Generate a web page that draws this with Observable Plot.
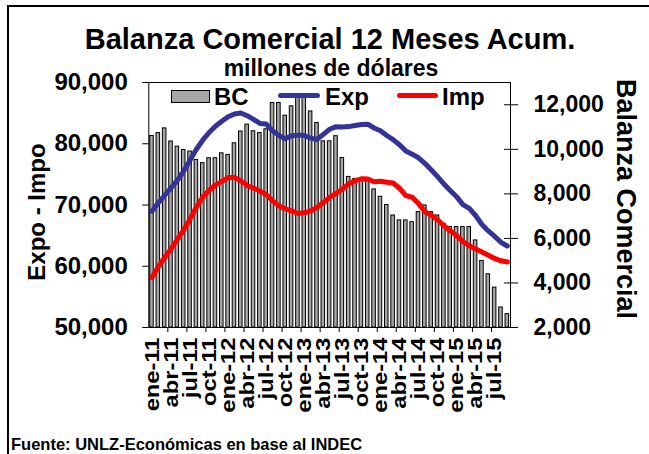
<!DOCTYPE html>
<html><head><meta charset="utf-8">
<script src="https://cdn.jsdelivr.net/npm/d3@7"></script>
<script src="https://cdn.jsdelivr.net/npm/@observablehq/plot@0.6"></script>
<style>
body{margin:0;background:#fff;}
#wrap{position:relative;width:649px;height:454px;overflow:hidden;background:#fff;font-family:"Liberation Sans",Arial,sans-serif;font-weight:bold;color:#000;}
.abs{position:absolute;white-space:nowrap;line-height:1;}
#chart{position:absolute;left:0;top:60px;}
#chart svg text{font-weight:bold;}
</style></head><body>
<div id="wrap">
 <div class="abs" style="left:7px;top:5px;width:660px;height:470px;border-left:2px solid #000;border-top:2px solid #000;"></div>
 <div id="chart"></div>
 <div class="abs" style="left:0;width:660px;text-align:center;top:26.5px;font-size:29px;line-height:24px;">Balanza Comercial 12 Meses Acum.</div>
 <div class="abs" style="left:0;width:662px;text-align:center;top:57.5px;font-size:23px;line-height:20px;">millones de dólares</div>
 <div class="abs" style="left:37px;top:212px;font-size:24px;transform:translate(-50%,-50%) rotate(-90deg);">Expo - Impo</div>
 <div class="abs" style="left:625px;top:199px;font-size:27px;transform:translate(-50%,-50%) rotate(90deg);">Balanza Comercial</div>
 <div class="abs" style="left:171px;top:90px;width:37px;height:11px;background:#a6a6a6;border:1px solid #000;"></div>
 <div class="abs" style="left:214px;top:84.5px;font-size:24px;">BC</div>
 <div class="abs" style="left:278px;top:92.5px;width:42px;height:5px;border-radius:2.5px;background:#333399;"></div>
 <div class="abs" style="left:325px;top:84.5px;font-size:24px;">Exp</div>
 <div class="abs" style="left:397px;top:93px;width:41px;height:5px;border-radius:2.5px;background:#ff0000;"></div>
 <div class="abs" style="left:442px;top:84.5px;font-size:24px;">Imp</div>
 <div class="abs" style="left:11px;top:436px;font-size:16.5px;">Fuente: UNLZ-Económicas en base al INDEC</div>
</div>
<script>
const meses = ["ene","feb","mar","abr","may","jun","jul","ago","sep","oct","nov","dic"];
const anios = ["11","12","13","14","15"];
const categorias = anios.flatMap(a => meses.map(m => `${m}-${a}`)).slice(0, 57);
const etiquetas = ["ene-11","abr-11","jul-11","oct-11","ene-12","abr-12","jul-12","oct-12","ene-13","abr-13","jul-13","oct-13","ene-14","abr-14","jul-14","oct-14","ene-15","abr-15","jul-15"];

const bc = [10600,10730,10940,10350,10120,9970,9900,9520,9380,9600,9600,9820,9750,10270,10800,11110,10810,10730,10900,12080,12080,11510,11930,12350,12400,11700,11180,10360,10360,10590,9610,8760,8670,8570,8570,8200,7870,7500,7030,6810,6810,6730,7180,7480,7180,7030,6660,6510,6510,6510,6510,5910,4990,4390,3790,2900,2600];
const expo = [68990,70360,71580,72790,74000,75550,77300,79110,80580,81840,82870,83670,84400,84860,85020,84580,83990,83320,83230,82120,81350,80830,81300,81410,81350,80920,80700,81540,82360,82790,82740,82800,82980,83130,83190,82570,82120,81350,80680,79830,78830,78300,77710,76810,75760,74640,73430,72380,71360,70070,69460,68290,66820,65770,64860,63910,63310];
const impo = [58160,59940,61430,62830,64400,65940,67680,69670,71270,72400,73230,73850,74470,74490,73970,73180,72780,72290,71710,70690,69850,69380,69040,68610,68730,69050,69580,70410,71230,71880,72580,73460,73970,74280,74250,73800,73890,73720,73590,72740,71530,71260,70230,68920,68350,67600,66620,65790,65000,64040,63340,62820,62310,61790,61270,60890,60690];

const ejeIzq = [50000,60000,70000,80000,90000];
const ejeDer = [2000,4000,6000,8000,10000,12000];
const dominioIzq = [50000, 90000];
const dominioDer = [2000, 13000];

const k = (dominioIzq[1]-dominioIzq[0])/(dominioDer[1]-dominioDer[0]);
const toLeft = v => dominioIzq[0] + (v - dominioDer[0]) * k;
const toRight = v => dominioDer[0] + (v - dominioIzq[0]) / k;
const rows = categorias.map((m,i) => ({m, bc: toLeft(bc[i]), exp: expo[i], imp: impo[i]}));

const W = 649, H = 360, mL = 148.3, mR = 139, mT = 22, mB = 93;
const step = (W - mL - mR) / categorias.length;
const pxPerUnit = (H - mT - mB) / (dominioIzq[1] - dominioIzq[0]);
const limites = categorias.filter((d,i) => i > 0 && i % 3 === 0);
const fmt = d3.format(",");

const plot = Plot.plot({
  width: W, height: H, marginLeft: mL, marginRight: mR, marginTop: mT, marginBottom: mB,
  style: {fontFamily: "'Liberation Sans', Arial, sans-serif", fontWeight: "bold", color: "#000", background: "transparent", overflow: "visible"},
  x: {type: "band", domain: categorias, padding: 0, round: false, axis: null},
  y: {domain: dominioIzq, axis: null},
  marks: [
    Plot.barY(rows, {x: "m", y1: dominioIzq[0], y2: "bc", fill: "#a6a6a6", stroke: "#000", strokeWidth: 1, insetLeft: 1.4, insetRight: 1.4}),
    Plot.line(rows, {x: "m", y: "exp", stroke: "#333399", strokeWidth: 5, strokeLinecap: "round", strokeLinejoin: "round"}),
    Plot.line(rows, {x: "m", y: "imp", stroke: "#ff0000", strokeWidth: 5, strokeLinecap: "round", strokeLinejoin: "round"}),
    Plot.frame({stroke: "#000", strokeWidth: 1}),
    Plot.ruleX(limites, {x: d => d, y1: dominioIzq[0], y2: dominioIzq[0] - 5 / pxPerUnit, dx: -step / 2, stroke: "#000"}),
    Plot.axisY(ejeIzq, {anchor: "left", tickSize: 6, tickPadding: 15, tickFormat: fmt, fontSize: 24, label: null}),
    Plot.axisY(ejeDer.map(toLeft), {anchor: "right", tickSize: 14, dx: -7, tickPadding: 16, tickFormat: d => fmt(Math.round(toRight(d))), fontSize: 23, label: null}),
    Plot.axisX(etiquetas, {anchor: "bottom", tickSize: 0, tickPadding: 10, tickRotate: -90, fontSize: 21, label: null})
  ]
});
// stretch the rotated month labels along their length, as in the reference
const setEt = new Set(etiquetas);
d3.select(plot).selectAll("text").each(function() {
  if (!setEt.has(this.textContent)) return;
  let el = this;
  let t = el.getAttribute("transform");
  if (!(t && t.includes("rotate"))) { el = this.parentNode; t = el.getAttribute("transform"); }
  if (t && t.includes("rotate")) el.setAttribute("transform", t + " scale(1.13,1)");
});
document.getElementById("chart").appendChild(plot);
</script>
</body></html>
